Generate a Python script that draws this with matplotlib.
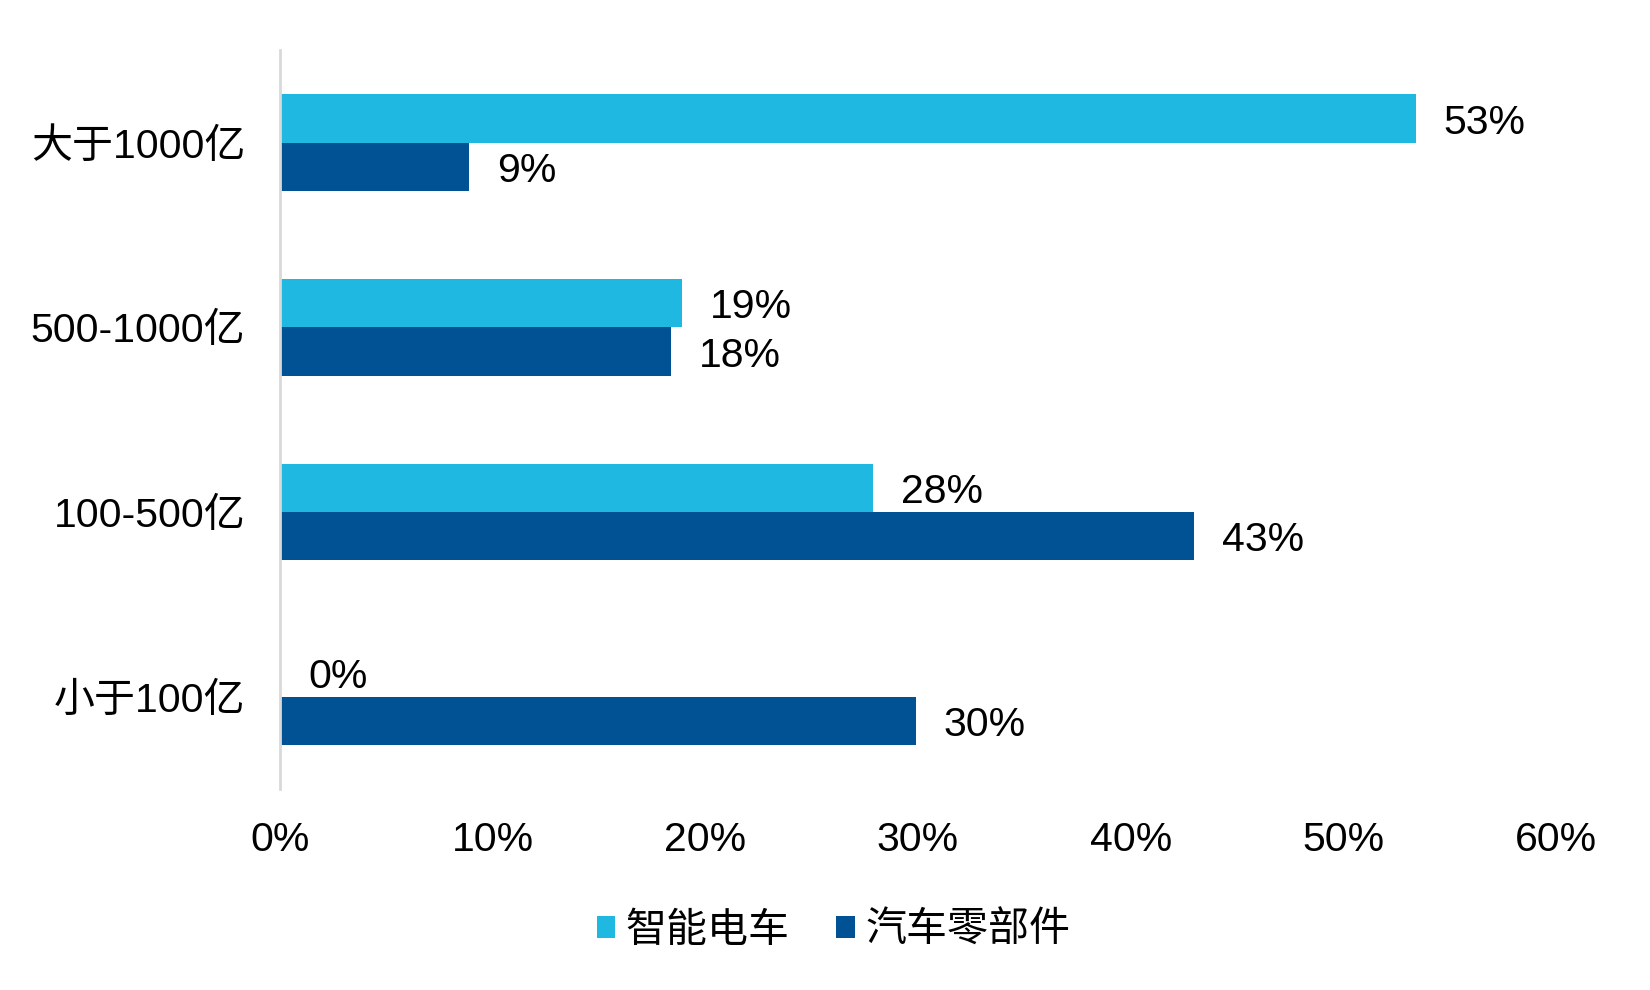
import matplotlib
matplotlib.use("Agg")
import matplotlib.pyplot as plt
import numpy as np

plt.rcParams['font.family'] = ['Liberation Sans', 'Noto Sans CJK SC', 'DejaVu Sans']

categories = ["大于1000亿", "500-1000亿", "100-500亿", "小于100亿"]
series_names = ["智能电车", "汽车零部件"]
smart_ev = [53.4, 18.9, 27.9, 0.0]
auto_parts = [8.9, 18.4, 43.0, 29.9]
xticks = [0, 10, 20, 30, 40, 50, 60]

c_light = "#1FB8E0"
c_dark = "#005295"
fs = 29.5

fig = plt.figure(figsize=(16.5, 9.9), dpi=100)
ax = fig.add_axes([0.1697, 0.203, 0.7733, 0.746])

y = np.arange(len(categories))
h = 0.262
b1 = ax.barh(y - h / 2, smart_ev, height=h, color=c_light, label=series_names[0])
b2 = ax.barh(y + h / 2, auto_parts, height=h, color=c_dark, label=series_names[1])

for bars, vals in ((b1, smart_ev), (b2, auto_parts)):
    for bar, v in zip(bars, vals):
        ax.annotate("%.0f%%" % v, (v, bar.get_y() + bar.get_height() / 2),
                    xytext=(28, 0), textcoords="offset pixels",
                    va="center_baseline", ha="left", fontsize=fs)

ax.set_ylim(len(categories) - 0.5, -0.5)
ax.set_xlim(0, 60)
ax.set_xticks(xticks)
ax.set_xticklabels(["%d%%" % t for t in xticks], fontsize=fs)
ax.set_yticks(y)
ax.set_yticklabels(categories, fontsize=fs)
ax.tick_params(axis='both', length=0)
ax.tick_params(axis='x', pad=23)
ax.tick_params(axis='y', pad=25)

for s in ("top", "right", "bottom"):
    ax.spines[s].set_visible(False)
ax.spines["left"].set_color("#D9D9D9")
ax.spines["left"].set_linewidth(2)

fig.legend(loc="center", bbox_to_anchor=(0.505, 0.060), ncol=2, frameon=False,
           fontsize=fs, handlelength=0.45, handleheight=0.45, handletextpad=0.25,
           columnspacing=1.15)

fig.savefig("out.png", dpi=100)
